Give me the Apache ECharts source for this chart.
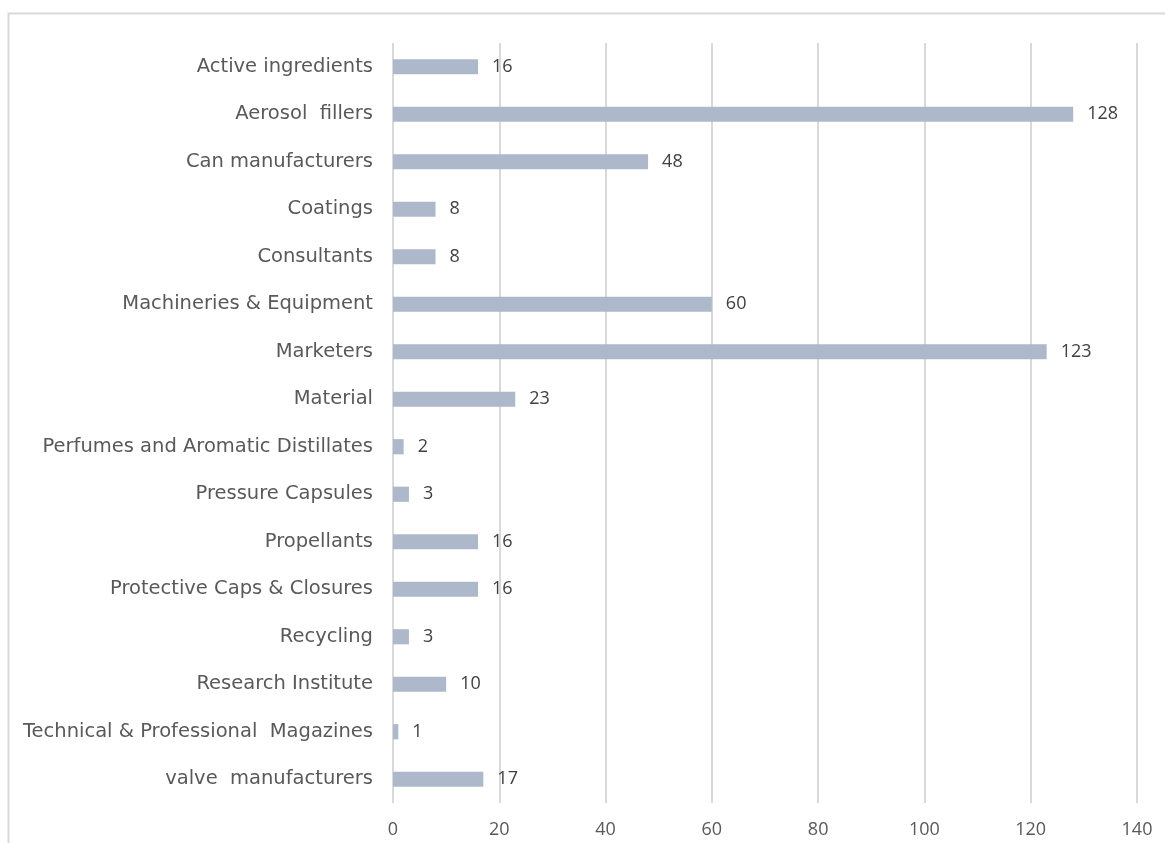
<!DOCTYPE html>
<html>
<head>
<meta charset="utf-8">
<script src="https://cdn.jsdelivr.net/npm/echarts@6/dist/echarts.min.js"></script>
<style>
html,body{margin:0;padding:0;background:#fff;}
#chart{width:1165px;height:843px;}
</style>
</head>
<body>
<div id="chart"></div>
<script>
const categories = [
  "Active ingredients",
  "Aerosol  fillers",
  "Can manufacturers",
  "Coatings",
  "Consultants",
  "Machineries & Equipment",
  "Marketers",
  "Material",
  "Perfumes and Aromatic Distillates",
  "Pressure Capsules",
  "Propellants",
  "Protective Caps & Closures",
  "Recycling",
  "Research Institute",
  "Technical & Professional  Magazines",
  "valve  manufacturers"
];
const values = [16, 128, 48, 8, 8, 60, 123, 23, 2, 3, 16, 16, 3, 10, 1, 17];
const axisMin = 0, axisMax = 140, axisStep = 20;

const chart = echarts.init(document.getElementById('chart'), null, {renderer: 'canvas'});
chart.setOption({
  animation: false,
  backgroundColor: '#ffffff',
  graphic: [{
    type: 'rect',
    shape: {x: 8.5, y: 13.5, width: 1200, height: 900},
    style: {fill: 'none', stroke: '#d9d9d9', lineWidth: 2},
    silent: true
  }],
  grid: {left: 393, right: 28, top: 43, bottom: 40, containLabel: false},
  xAxis: {
    type: 'value',
    min: axisMin, max: axisMax, interval: axisStep,
    axisLine: {show: false},
    axisTick: {show: false},
    splitLine: {show: true, lineStyle: {color: '#d9d9d9', width: 2}},
    axisLabel: {color: '#595959', fontSize: 18, fontFamily: "'Open Sans', sans-serif", margin: 18}
  },
  yAxis: {
    type: 'category',
    data: categories,
    inverse: true,
    axisLine: {show: false},
    axisTick: {show: false},
    splitLine: {show: false},
    axisLabel: {color: '#595959', fontSize: 19.5, fontFamily: "'DejaVu Sans', Verdana, sans-serif", margin: 20}
  },
  series: [{
    type: 'bar',
    data: values,
    barWidth: '32%',
    itemStyle: {color: '#adb9ca'},
    label: {
      show: true, position: 'right', distance: 14,
      color: '#404040', fontSize: 18, fontFamily: "'Open Sans', sans-serif"
    }
  }]
});
</script>
</body>
</html>
